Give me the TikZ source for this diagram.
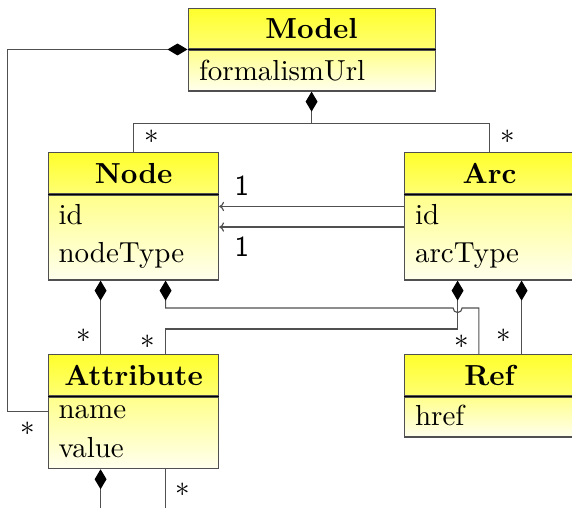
\documentclass[tikz,border=0pt]{standalone}
\usepackage{tikz}
\usetikzlibrary{positioning,calc,arrows.meta}

\definecolor{headtop}{RGB}{255,255,45}
\definecolor{headbot}{RGB}{255,255,115}
\definecolor{bodytop}{RGB}{255,255,140}
\definecolor{bodybot}{RGB}{255,255,238}
\definecolor{linegray}{RGB}{80,80,80}
\newcommand{\pxu}{0.345pt}

\tikzset{
  classhead/.style={draw=linegray, anchor=north west, inner sep=0pt,
    minimum height=41*\pxu, top color=headtop, bottom color=headbot, font=\bfseries},
  classbody/.style={draw=linegray, inner sep=0pt, top color=bodytop, bottom color=bodybot},
  attr/.style={anchor=base west, inner sep=0pt},
  comp/.style={draw=linegray, {Diamond[length=6.9pt,width=4.1pt,color=black]}-},
  assoc/.style={draw=linegray, -{Computer Modern Rightarrow[length=1.7pt,width=3.2pt]}},
  mult/.style={inner sep=0pt},
  one/.style={inner sep=0pt, font=\sffamily},
}

\begin{document}
\begin{tikzpicture}[x=\pxu, y=-\pxu]
  \useasboundingbox (0,0) rectangle (572,507);
  \clip (0,0) rectangle (572,507);

  % Model
  \node[classhead, minimum width=247*\pxu, minimum height=40*\pxu] (modelhead) at (187.5,8.3) {Model};
  \node[classbody, minimum width=247*\pxu, minimum height=41*\pxu, below=0pt of modelhead] (modelbody) {};
  \draw (modelhead.south west) -- (modelhead.south east);
  \node[attr] (modelurl) at ($(modelbody.north west)+(11,31.5)$) {formalismUrl};

  % Node
  \node[classhead, minimum width=170*\pxu] (nodehead) at (48,152.3) {Node};
  \node[classbody, minimum width=170*\pxu, minimum height=85*\pxu, below=0pt of nodehead] (nodebody) {};
  \draw (nodehead.south west) -- (nodehead.south east);
  \node[attr] (nodeid) at ($(nodebody.north west)+(10,30)$) {id};
  \node[attr] (nodetype) at ($(nodebody.north west)+(10,68.4)$) {nodeType};

  % Arc
  \node[classhead, minimum width=170*\pxu] (archead) at (404,152.3) {Arc};
  \node[classbody, minimum width=170*\pxu, minimum height=85*\pxu, below=0pt of archead] (arcbody) {};
  \draw (archead.south west) -- (archead.south east);
  \node[attr] (arcid) at ($(arcbody.north west)+(10.5,30)$) {id};
  \node[attr] (arctype) at ($(arcbody.north west)+(10.5,68.4)$) {arcType};

  % Attribute
  \node[classhead, minimum width=170*\pxu] (attrhead) at (48,354.3) {Attribute};
  \node[classbody, minimum width=170*\pxu, minimum height=71.6*\pxu, below=0pt of attrhead] (attrbody) {};
  \draw (attrhead.south west) -- (attrhead.south east);
  \node[attr] (attrname) at ($(attrbody.north west)+(10,21.6)$) {name};
  \node[attr] (attrvalue) at ($(attrbody.north west)+(10,61)$) {value};

  % Ref
  \node[classhead, minimum width=170*\pxu] (refhead) at (404,354.3) {Ref};
  \node[classbody, minimum width=170*\pxu, minimum height=40*\pxu, below=0pt of refhead] (refbody) {};
  \draw (refhead.south west) -- (refhead.south east);
  \node[attr] (refhref) at ($(refbody.north west)+(10.5,29.3)$) {href};

  % Model contains nodes, arcs and attributes
  \draw[comp] (modelhead.south west) -- ++(-180,0) |- (attrbody.west |- attrname);
  \node[mult] (mattr) at ($(attrbody.west |- attrname)+(-20.7,17.3)$) {$*$};
  \draw[comp] (modelbody.south) -- ++(0,32) coordinate (mjoin) -| (nodehead.north);
  \draw[linegray] (mjoin) -| (archead.north);
  \node[mult] (mnode) at ($(nodehead.north)+(17.7,-15.6)$) {$*$};
  \node[mult] (marc) at ($(archead.north)+(18,-15.6)$) {$*$};

  % Arc source and target
  \draw[assoc] ($(arcbody.north west)+(0,12)$) -- ($(nodebody.north east)+(0,12)$);
  \draw[assoc] ($(arcbody.north west)+(0,32.6)$) -- ($(nodebody.north east)+(0,32.6)$);
  \node[one] (src) at ($(nodebody.north east)+(22.7,-8.3)$) {1};
  \node[one] (trg) at ($(nodebody.north east)+(22.7,52.4)$) {1};

  % Node children
  \draw[comp] ($(nodebody.south)+(-33,0)$) -- ($(attrhead.north)+(-33,0)$);
  \node[mult] (nattr) at ($(attrhead.north)+(-49.7,-18.6)$) {$*$};
  \draw[comp] ($(nodebody.south)+(32,0)$) -- ++(0,27.4)
    -- ($(arcbody.south)+(-36.5,27.4)$) arc[start angle=180, end angle=0, radius=4.5]
    -| ($(refhead.north)+(-10.7,0)$);
  \node[mult] (nref) at ($(refhead.north)+(-28.3,-12.6)$) {$*$};

  % Arc children
  \draw[comp] ($(arcbody.south)+(-32,0)$) -- ++(0,48.4) -| ($(attrhead.north)+(32,0)$);
  \node[mult] (aattr) at ($(attrhead.north)+(13.7,-12.6)$) {$*$};
  \draw[comp] ($(arcbody.south)+(32,0)$) -- ($(refhead.north)+(32,0)$);
  \node[mult] (aref) at ($(refhead.north)+(13.7,-18.6)$) {$*$};

  % Attribute children
  \draw[comp] ($(attrbody.south)+(-33,0)$) -- ++(0,45);
  \draw[linegray] ($(attrbody.south)+(32,0)$) -- ++(0,45);
  \node[mult] (attrself) at ($(attrbody.south)+(48.7,21)$) {$*$};
\end{tikzpicture}
\end{document}
